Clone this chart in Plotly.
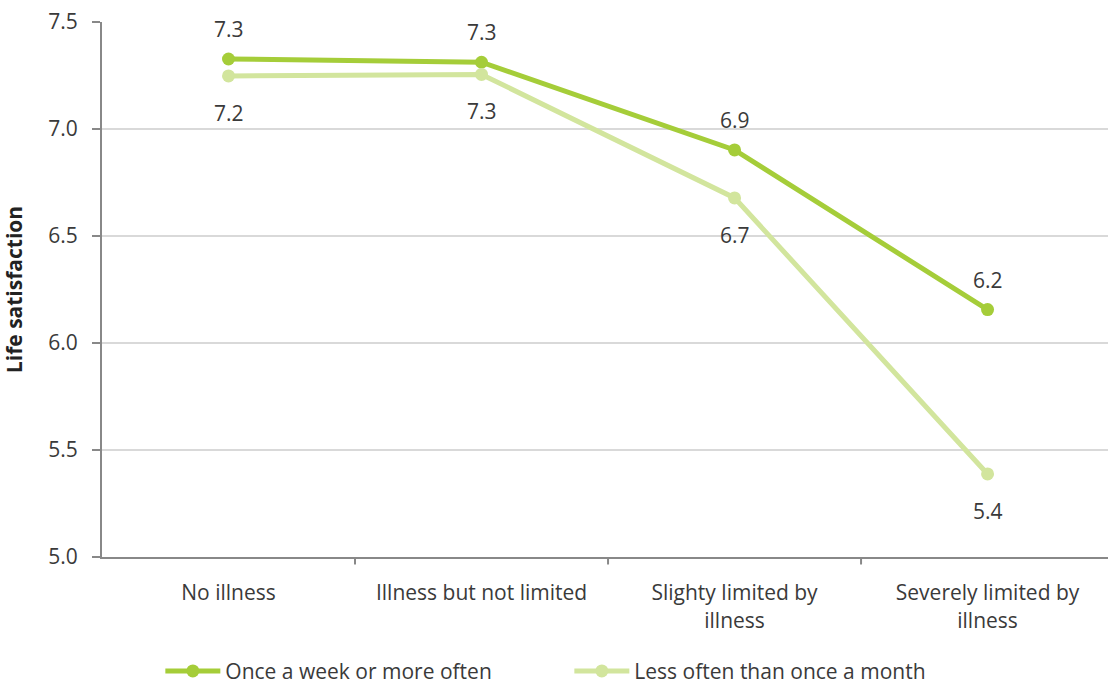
import plotly.graph_objects as go

categories = ["No illness", "Illness but not limited", "Slighty limited by<br>illness", "Severely limited by<br>illness"]
weekly = [7.327, 7.312, 6.902, 6.156]
rarely = [7.248, 7.255, 6.678, 5.388]
series_names = ["Once a week or more often", "Less often than once a month"]

dark_green = "#a5cd39"
light_green = "#d2e59d"
text_color = "#3a3a3a"
font_family = "Open Sans, Liberation Sans, Arial, sans-serif"

fig = go.Figure()
for name, vals, col in [(series_names[0], weekly, dark_green), (series_names[1], rarely, light_green)]:
    fig.add_trace(go.Scatter(
        x=list(range(len(categories))), y=vals, name=name, mode="lines+markers",
        line=dict(color=col, width=5), marker=dict(color=col, size=13),
    ))

# value labels: above the weekly series, below the other
for i, v in enumerate(weekly):
    fig.add_annotation(x=i, y=v, text=f"{v:.1f}", showarrow=False, yshift=30,
                       font=dict(size=21, color=text_color, family=font_family))
for i, v in enumerate(rarely):
    fig.add_annotation(x=i, y=v, text=f"{v:.1f}", showarrow=False, yshift=-37,
                       font=dict(size=21, color=text_color, family=font_family))

fig.update_layout(
    width=1108, height=693, margin=dict(l=102, r=0, t=22, b=136),
    paper_bgcolor="white", plot_bgcolor="white",
    font=dict(family=font_family, size=20, color=text_color),
    showlegend=True,
    legend=dict(orientation="h", x=0.058, xanchor="left", y=-0.252, yanchor="bottom",
                font=dict(size=21, color=text_color), itemwidth=55,
                entrywidth=339, tracegroupgap=0),
)
fig.update_xaxes(
    range=[-0.5, 3.476], tickvals=list(range(len(categories))), ticktext=categories,
    showgrid=False, showline=True, linecolor="#888888", linewidth=2,
    ticks="", zeroline=False, tickfont=dict(size=21, color=text_color),
    ticklabelstandoff=16, automargin=False,
)
# boundary tick marks between categories
for b in [0.5, 1.5, 2.5]:
    fig.add_shape(type="line", xref="x", yref="paper", x0=b, x1=b, y0=0, y1=-0.014,
                  line=dict(color="#888888", width=2))
fig.update_yaxes(
    range=[5.0, 7.5], tickvals=[5.0, 5.5, 6.0, 6.5, 7.0, 7.5], tickformat=".1f",
    showgrid=True, gridcolor="#d9d9d9", gridwidth=2,
    showline=True, linecolor="#888888", linewidth=2,
    ticks="outside", ticklen=8, tickcolor="#888888", tickwidth=2,
    zeroline=False, tickfont=dict(size=21, color=text_color),
    ticklabelstandoff=10, automargin=False,
    title=dict(text="<b>Life satisfaction</b>", font=dict(size=21, color="#222222"), standoff=24),
)

fig.write_html("out.html")
